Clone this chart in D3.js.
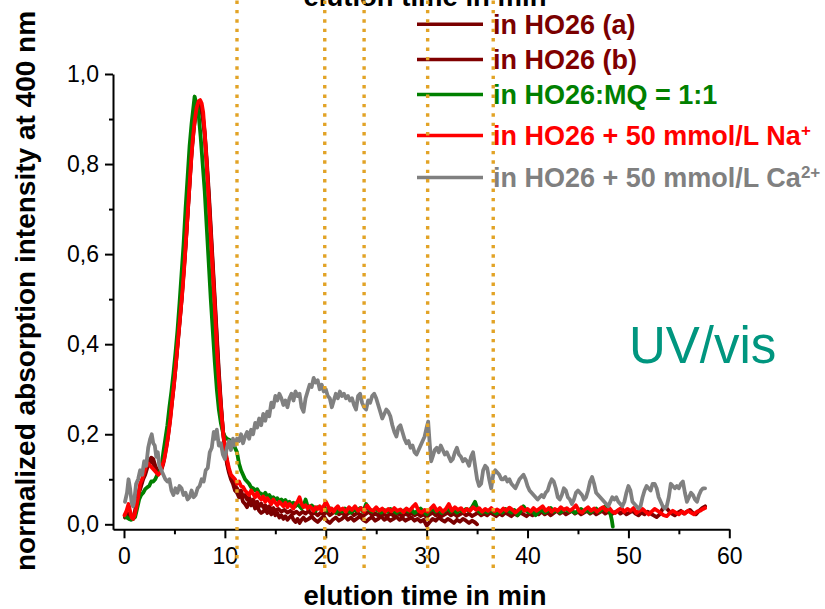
<!DOCTYPE html>
<html><head><meta charset="utf-8">
<script src="https://cdn.jsdelivr.net/npm/d3@7"></script>
<style>html,body{margin:0;padding:0;background:#fff;}svg{display:block;}</style>
</head><body>
<svg id="chart" width="825" height="609"></svg>
<script>
// ---------- data ----------
const xTicks = [0, 10, 20, 30, 40, 50, 60];
const xMinorTicks = [5, 15, 25, 35, 45, 55];
const yTicks = [0.0, 0.2, 0.4, 0.6, 0.8, 1.0];
const yMinorTicks = [0.1, 0.3, 0.5, 0.7, 0.9];
const markerTimes = [11.2, 19.9, 23.8, 30.1, 36.6];
const legendLabels = ["in HO26 (a)", "in HO26 (b)", "in HO26:MQ = 1:1", "in HO26 + 50 mmol/L Na", "in HO26 + 50 mmol/L Ca"];
const legendSup = ["", "", "", "+", "2+"];
const seriesColors = ["#7a0000", "#800000", "#008000", "#ff0000", "#808080"];

const seriesA = [[0.1,0.015],[0.3,0.02],[0.5,0.018],[0.7,0.012],[0.9,0.015],[1.1,0.03],[1.3,0.06],[1.5,0.075],[1.7,0.09],[1.9,0.105],[2.1,0.115],[2.3,0.13],[2.5,0.14],[2.7,0.148],[2.9,0.145],[3.1,0.13],[3.3,0.12],[3.5,0.118],[3.7,0.125],[3.9,0.14],[4.1,0.165],[4.3,0.19],[4.5,0.225],[4.7,0.265],[4.9,0.305],[5.1,0.35],[5.3,0.40],[5.5,0.45],[5.7,0.50],[5.9,0.56],[6.1,0.62],[6.3,0.69],[6.5,0.76],[6.7,0.83],[6.9,0.88],[7.1,0.915],[7.3,0.932],[7.45,0.935],[7.6,0.93],[7.8,0.91],[8.0,0.87],[8.2,0.81],[8.4,0.74],[8.6,0.66],[8.8,0.58],[9.0,0.50],[9.2,0.42],[9.4,0.34],[9.6,0.27],[9.8,0.21],[10.0,0.165],[10.2,0.135],[10.4,0.115],[10.6,0.10],[10.8,0.09],[11.0,0.075],[11.2,0.07],[11.4,0.06],[11.6,0.065],[11.8,0.05],[12.0,0.045],[12.2,0.038],[12.4,0.05],[12.6,0.042],[12.8,0.048],[13.0,0.035],[13.2,0.04],[13.4,0.03],[13.6,0.025],[13.8,0.028],[14.0,0.035],[14.2,0.025],[14.4,0.03],[14.6,0.022],[14.8,0.032],[15.0,0.02],[15.2,0.025],[15.4,0.015],[15.6,0.02],[15.8,0.012],[16.0,0.018],[16.2,0.01],[16.4,0.015],[16.6,0.02],[16.8,0.01],[17.0,0.005],[17.2,0.012],[17.4,0.003],[17.6,0.01],[17.8,0.015],[18.0,0.008],[18.3,0.012],[18.6,0.017],[18.9,0.01],[19.2,0.005],[19.5,0.012],[19.8,0.018],[20.1,0.008],[20.4,0.003],[20.7,0.01],[21.0,0.015],[21.3,0.008],[21.6,0.012],[21.9,0.018],[22.2,0.01],[22.5,0.015],[22.8,0.008],[23.1,0.013],[23.4,0.018],[23.7,0.01],[24.0,0.006],[24.3,0.012],[24.6,0.016],[24.9,0.008],[25.2,0.012],[25.5,0.018],[25.8,0.01],[26.1,0.014],[26.4,0.008],[26.7,0.012],[27.0,0.017],[27.3,0.01],[27.6,0.014],[27.9,0.008],[28.2,0.012],[28.5,0.015],[28.8,0.008],[29.1,0.012],[29.4,0.006],[29.7,0.01],[30.0,-0.003],[30.3,0.005],[30.6,0.012],[30.9,0.008],[31.2,0.015],[31.5,0.01],[31.8,0.006],[32.1,0.012],[32.4,0.008],[32.7,0.003],[33.0,0.01],[33.3,0.006],[33.6,0.012],[33.9,0.008],[34.2,0.003],[34.5,0.008],[34.8,0.004],[35.0,0.0]];

const seriesB = [[0.1,0.02],[0.3,0.025],[0.5,0.02],[0.7,0.012],[0.9,0.012],[1.1,0.025],[1.3,0.05],[1.5,0.07],[1.7,0.085],[1.9,0.1],[2.1,0.11],[2.3,0.125],[2.5,0.135],[2.7,0.14],[2.9,0.135],[3.1,0.125],[3.3,0.118],[3.5,0.115],[3.7,0.12],[3.9,0.135],[4.1,0.16],[4.3,0.185],[4.5,0.22],[4.7,0.26],[4.9,0.30],[5.1,0.345],[5.3,0.395],[5.5,0.445],[5.7,0.495],[5.9,0.555],[6.1,0.615],[6.3,0.685],[6.5,0.755],[6.7,0.825],[6.9,0.875],[7.1,0.91],[7.3,0.928],[7.45,0.93],[7.6,0.925],[7.8,0.905],[8.0,0.865],[8.2,0.80],[8.4,0.73],[8.6,0.65],[8.8,0.57],[9.0,0.49],[9.2,0.41],[9.4,0.33],[9.6,0.265],[9.8,0.21],[10.0,0.17],[10.2,0.14],[10.4,0.12],[10.6,0.105],[10.8,0.095],[11.0,0.085],[11.2,0.08],[11.4,0.07],[11.6,0.075],[11.8,0.06],[12.0,0.065],[12.2,0.055],[12.4,0.06],[12.6,0.05],[12.8,0.055],[13.0,0.045],[13.2,0.05],[13.4,0.04],[13.6,0.046],[13.8,0.038],[14.0,0.042],[14.2,0.035],[14.4,0.04],[14.6,0.032],[14.8,0.036],[15.0,0.03],[15.3,0.034],[15.6,0.028],[15.9,0.032],[16.2,0.026],[16.5,0.03],[16.8,0.024],[17.1,0.028],[17.4,0.022],[17.7,0.028],[18.0,0.024],[18.3,0.03],[18.6,0.022],[18.9,0.026],[19.2,0.02],[19.5,0.026],[19.8,0.022],[20.1,0.028],[20.4,0.02],[20.7,0.025],[21.0,0.03],[21.3,0.022],[21.6,0.026],[21.9,0.02],[22.2,0.024],[22.5,0.028],[22.8,0.02],[23.1,0.025],[23.4,0.022],[23.7,0.018],[24.0,0.024],[24.3,0.028],[24.6,0.02],[24.9,0.024],[25.2,0.02],[25.5,0.026],[25.8,0.022],[26.1,0.018],[26.4,0.024],[26.7,0.02],[27.0,0.026],[27.3,0.022],[27.6,0.018],[27.9,0.024],[28.2,0.02],[28.5,0.025],[28.8,0.02],[29.1,0.024],[29.4,0.018],[29.7,0.022],[30.0,0.016],[30.3,0.022],[30.6,0.026],[30.9,0.02],[31.2,0.024],[31.5,0.018],[31.8,0.022],[32.1,0.026],[32.4,0.02],[32.7,0.024],[33.0,0.018],[33.3,0.022],[33.6,0.026],[33.9,0.02],[34.2,0.024],[34.5,0.018],[34.8,0.022],[35.1,0.026],[35.4,0.02],[35.7,0.024],[36.0,0.02],[36.3,0.026],[36.6,0.022],[36.9,0.018],[37.2,0.024],[37.5,0.02],[37.8,0.026],[38.1,0.022],[38.4,0.018],[38.7,0.024],[39.0,0.02],[39.3,0.026],[39.6,0.022],[39.9,0.018],[40.2,0.024],[40.5,0.02],[40.8,0.026],[41.1,0.022],[41.4,0.028],[41.7,0.022],[42.0,0.026],[42.3,0.02],[42.6,0.025],[42.9,0.03],[43.2,0.024],[43.5,0.028],[43.8,0.022],[44.1,0.026],[44.4,0.03],[44.7,0.024],[45.0,0.028],[45.3,0.022],[45.6,0.026],[45.9,0.03],[46.2,0.024],[46.5,0.028],[46.8,0.022],[47.1,0.026],[47.4,0.03],[47.7,0.024],[48.0,0.028],[48.3,0.022],[48.6,0.026],[48.9,0.03],[49.2,0.024],[49.5,0.028],[49.8,0.022],[50.1,0.026],[50.4,0.03],[50.7,0.024],[51.0,0.02],[51.3,0.026],[51.6,0.022],[51.9,0.028],[52.2,0.024],[52.5,0.02],[52.8,0.016],[53.1,0.022],[53.4,0.035],[53.7,0.038],[54.0,0.03],[54.3,0.024],[54.6,0.02],[54.9,0.026],[55.2,0.03],[55.5,0.024],[55.8,0.028],[56.1,0.032],[56.4,0.025],[56.7,0.022],[57.0,0.03],[57.3,0.036],[57.6,0.04]];

const seriesMQ = [[0.1,0.018],[0.3,0.015],[0.5,0.012],[0.7,0.01],[0.9,0.012],[1.1,0.016],[1.3,0.035],[1.5,0.055],[1.7,0.065],[1.9,0.07],[2.1,0.078],[2.3,0.082],[2.5,0.085],[2.7,0.095],[2.9,0.095],[3.1,0.1],[3.3,0.11],[3.5,0.115],[3.7,0.125],[3.9,0.16],[4.1,0.19],[4.3,0.22],[4.5,0.26],[4.7,0.295],[4.9,0.335],[5.1,0.38],[5.3,0.43],[5.5,0.49],[5.7,0.555],[5.9,0.62],[6.1,0.70],[6.3,0.77],[6.5,0.84],[6.7,0.89],[6.9,0.93],[7.0,0.95],[7.1,0.94],[7.25,0.93],[7.4,0.91],[7.6,0.86],[7.8,0.80],[8.0,0.74],[8.2,0.66],[8.4,0.58],[8.6,0.50],[8.8,0.43],[9.0,0.36],[9.2,0.30],[9.4,0.255],[9.6,0.225],[9.8,0.205],[10.0,0.195],[10.2,0.19],[10.4,0.188],[10.6,0.185],[10.8,0.18],[11.0,0.17],[11.2,0.16],[11.4,0.135],[11.6,0.12],[11.8,0.11],[12.0,0.10],[12.2,0.095],[12.4,0.09],[12.6,0.082],[12.8,0.08],[13.0,0.075],[13.2,0.078],[13.4,0.07],[13.6,0.068],[13.8,0.064],[14.0,0.07],[14.2,0.062],[14.4,0.065],[14.6,0.058],[14.8,0.06],[15.0,0.055],[15.2,0.058],[15.4,0.05],[15.6,0.055],[15.8,0.05],[16.0,0.054],[16.2,0.046],[16.4,0.05],[16.6,0.044],[16.8,0.048],[17.0,0.04],[17.2,0.045],[17.4,0.04],[17.6,0.035],[17.8,0.042],[18.0,0.055],[18.2,0.04],[18.4,0.036],[18.6,0.042],[18.8,0.038],[19.0,0.03],[19.2,0.038],[19.5,0.034],[19.8,0.04],[20.1,0.03],[20.4,0.036],[20.7,0.032],[21.0,0.025],[21.3,0.032],[21.6,0.028],[21.9,0.035],[22.2,0.03],[22.5,0.026],[22.8,0.033],[23.1,0.03],[23.4,0.036],[23.7,0.028],[24.0,0.045],[24.3,0.032],[24.6,0.028],[24.9,0.034],[25.2,0.03],[25.5,0.026],[25.8,0.032],[26.1,0.028],[26.4,0.034],[26.7,0.03],[27.0,0.025],[27.3,0.03],[27.6,0.027],[27.9,0.033],[28.2,0.028],[28.5,0.032],[28.8,0.025],[29.1,0.03],[29.4,0.035],[29.7,0.028],[30.0,0.022],[30.3,0.03],[30.6,0.035],[30.9,0.028],[31.2,0.032],[31.5,0.025],[31.8,0.03],[32.1,0.036],[32.4,0.028],[32.7,0.033],[33.0,0.026],[33.3,0.032],[33.6,0.028],[33.9,0.034],[34.2,0.03],[34.5,0.038],[34.8,0.05],[35.1,0.03],[35.4,0.025],[35.7,0.03],[36.0,0.026],[36.3,0.032],[36.6,0.028],[36.9,0.024],[37.2,0.03],[37.5,0.026],[37.8,0.034],[38.1,0.03],[38.4,0.026],[38.7,0.032],[39.0,0.02],[39.3,0.028],[39.6,0.04],[39.9,0.03],[40.2,0.026],[40.5,0.03],[40.8,0.02],[41.1,0.028],[41.4,0.032],[41.7,0.026],[42.0,0.03],[42.3,0.036],[42.6,0.028],[42.9,0.032],[43.2,0.026],[43.5,0.03],[43.8,0.034],[44.1,0.028],[44.4,0.03],[44.7,0.025],[45.0,0.03],[45.3,0.034],[45.6,0.028],[45.9,0.032],[46.2,0.026],[46.5,0.03],[46.8,0.035],[47.1,0.028],[47.4,0.033],[47.7,0.04],[48.0,0.03],[48.2,0.025],[48.35,0.01],[48.45,-0.005]];

const seriesNa = [[0.05,0.02],[0.25,0.03],[0.45,0.045],[0.6,0.03],[0.75,0.015],[0.9,0.012],[1.05,0.02],[1.2,0.035],[1.4,0.06],[1.6,0.09],[1.8,0.10],[2.0,0.115],[2.2,0.13],[2.4,0.135],[2.6,0.13],[2.8,0.125],[3.0,0.12],[3.2,0.115],[3.4,0.11],[3.6,0.115],[3.8,0.13],[4.0,0.145],[4.2,0.17],[4.4,0.20],[4.6,0.235],[4.8,0.28],[5.0,0.32],[5.2,0.37],[5.4,0.42],[5.6,0.47],[5.8,0.52],[6.0,0.58],[6.2,0.65],[6.4,0.72],[6.6,0.79],[6.8,0.85],[7.0,0.895],[7.2,0.925],[7.4,0.94],[7.55,0.942],[7.7,0.935],[7.85,0.915],[8.0,0.87],[8.2,0.80],[8.4,0.72],[8.6,0.64],[8.8,0.56],[9.0,0.48],[9.2,0.39],[9.4,0.32],[9.6,0.26],[9.8,0.21],[10.0,0.17],[10.2,0.145],[10.4,0.125],[10.6,0.11],[10.8,0.105],[11.0,0.10],[11.2,0.09],[11.4,0.095],[11.6,0.085],[11.8,0.083],[12.0,0.075],[12.2,0.07],[12.4,0.065],[12.6,0.075],[12.8,0.068],[13.0,0.06],[13.2,0.07],[13.4,0.06],[13.6,0.055],[13.8,0.062],[14.0,0.05],[14.2,0.058],[14.4,0.052],[14.6,0.045],[14.8,0.055],[15.0,0.048],[15.2,0.042],[15.4,0.05],[15.6,0.045],[15.8,0.04],[16.0,0.048],[16.2,0.038],[16.4,0.045],[16.6,0.04],[16.8,0.035],[17.0,0.045],[17.2,0.05],[17.4,0.06],[17.6,0.045],[17.8,0.038],[18.0,0.042],[18.2,0.035],[18.4,0.04],[18.6,0.036],[18.8,0.03],[19.0,0.038],[19.2,0.034],[19.4,0.04],[19.6,0.03],[19.8,0.04],[20.0,0.05],[20.2,0.042],[20.4,0.03],[20.6,0.035],[20.8,0.028],[21.0,0.036],[21.2,0.04],[21.4,0.032],[21.7,0.035],[22.0,0.028],[22.3,0.038],[22.6,0.032],[22.9,0.04],[23.2,0.03],[23.5,0.036],[23.8,0.028],[24.1,0.042],[24.4,0.033],[24.7,0.03],[25.0,0.038],[25.3,0.03],[25.6,0.035],[25.9,0.028],[26.2,0.034],[26.5,0.029],[26.8,0.036],[27.1,0.03],[27.4,0.033],[27.7,0.027],[28.0,0.035],[28.3,0.03],[28.6,0.038],[28.9,0.045],[29.2,0.03],[29.5,0.026],[29.8,0.032],[30.1,0.028],[30.4,0.035],[30.7,0.042],[31.0,0.03],[31.3,0.036],[31.6,0.028],[31.9,0.034],[32.2,0.045],[32.5,0.03],[32.8,0.038],[33.1,0.032],[33.4,0.036],[33.7,0.028],[34.0,0.034],[34.3,0.03],[34.6,0.038],[34.9,0.032],[35.2,0.036],[35.5,0.028],[35.8,0.034],[36.1,0.03],[36.4,0.036],[36.7,0.029],[37.0,0.033],[37.3,0.028],[37.6,0.035],[37.9,0.03],[38.2,0.037],[38.5,0.032],[38.8,0.026],[39.1,0.032],[39.4,0.038],[39.7,0.03],[40.0,0.034],[40.3,0.028],[40.6,0.036],[40.9,0.03],[41.2,0.035],[41.5,0.04],[41.8,0.03],[42.1,0.036],[42.4,0.028],[42.7,0.034],[43.0,0.03],[43.3,0.038],[43.6,0.032],[43.9,0.036],[44.2,0.03],[44.5,0.035],[44.8,0.042],[45.1,0.03],[45.4,0.026],[45.7,0.033],[46.0,0.038],[46.3,0.03],[46.6,0.035],[46.9,0.028],[47.2,0.034],[47.5,0.038],[47.8,0.03],[48.1,0.036],[48.4,0.028],[48.7,0.025],[49.0,0.032],[49.3,0.036],[49.6,0.028],[49.9,0.034],[50.2,0.03],[50.5,0.036],[50.8,0.025],[51.1,0.03],[51.4,0.034],[51.7,0.028],[52.0,0.022],[52.3,0.028],[52.6,0.034],[52.9,0.03],[53.2,0.025],[53.5,0.02],[53.8,0.018],[54.1,0.025],[54.4,0.03],[54.7,0.026],[55.0,0.022],[55.3,0.028],[55.6,0.024],[55.9,0.03],[56.2,0.026],[56.5,0.022],[56.8,0.028],[57.1,0.03],[57.4,0.034],[57.6,0.036]];

const seriesCa = [[0.1,0.05],[0.3,0.07],[0.45,0.10],[0.6,0.08],[0.75,0.05],[0.9,0.04],[1.0,0.05],[1.2,0.09],[1.4,0.10],[1.6,0.12],[1.8,0.11],[2.0,0.14],[2.2,0.13],[2.4,0.17],[2.6,0.19],[2.75,0.20],[2.9,0.18],[3.05,0.175],[3.2,0.15],[3.35,0.16],[3.5,0.13],[3.7,0.12],[3.9,0.11],[4.1,0.10],[4.3,0.095],[4.5,0.10],[4.7,0.075],[4.9,0.065],[5.1,0.08],[5.3,0.07],[5.5,0.085],[5.7,0.08],[5.9,0.065],[6.1,0.07],[6.3,0.055],[6.5,0.06],[6.7,0.075],[6.9,0.06],[7.1,0.065],[7.3,0.08],[7.5,0.085],[7.7,0.10],[7.9,0.095],[8.1,0.12],[8.3,0.125],[8.5,0.16],[8.7,0.17],[8.9,0.205],[9.05,0.19],[9.2,0.21],[9.4,0.175],[9.6,0.18],[9.8,0.155],[10.0,0.145],[10.2,0.17],[10.4,0.185],[10.6,0.165],[10.8,0.19],[11.0,0.175],[11.2,0.19],[11.4,0.185],[11.6,0.20],[11.8,0.18],[12.0,0.195],[12.2,0.205],[12.4,0.19],[12.6,0.21],[12.8,0.20],[13.0,0.225],[13.2,0.215],[13.4,0.235],[13.6,0.22],[13.8,0.245],[14.0,0.23],[14.2,0.25],[14.4,0.24],[14.6,0.27],[14.8,0.26],[15.0,0.285],[15.2,0.275],[15.4,0.29],[15.6,0.28],[15.8,0.265],[16.0,0.275],[16.2,0.26],[16.4,0.28],[16.6,0.29],[16.8,0.275],[17.0,0.295],[17.2,0.285],[17.4,0.29],[17.6,0.26],[17.8,0.25],[18.0,0.28],[18.2,0.295],[18.4,0.31],[18.6,0.305],[18.8,0.325],[19.0,0.315],[19.2,0.32],[19.4,0.30],[19.6,0.31],[19.8,0.295],[20.0,0.30],[20.2,0.285],[20.4,0.28],[20.6,0.26],[20.8,0.275],[21.0,0.29],[21.2,0.28],[21.4,0.295],[21.6,0.285],[21.8,0.29],[22.0,0.28],[22.2,0.285],[22.4,0.275],[22.6,0.28],[22.8,0.265],[23.0,0.255],[23.2,0.285],[23.4,0.29],[23.6,0.27],[23.8,0.26],[24.0,0.255],[24.2,0.275],[24.4,0.27],[24.6,0.285],[24.8,0.29],[25.0,0.28],[25.2,0.265],[25.4,0.25],[25.6,0.235],[25.8,0.245],[26.0,0.255],[26.2,0.25],[26.4,0.24],[26.6,0.22],[26.8,0.205],[27.0,0.195],[27.2,0.215],[27.4,0.22],[27.6,0.205],[27.8,0.19],[28.0,0.18],[28.2,0.185],[28.4,0.17],[28.6,0.175],[28.8,0.16],[29.0,0.155],[29.2,0.165],[29.4,0.175],[29.6,0.185],[29.8,0.195],[30.0,0.215],[30.15,0.228],[30.3,0.18],[30.45,0.14],[30.6,0.15],[30.8,0.165],[31.0,0.17],[31.2,0.16],[31.4,0.175],[31.6,0.165],[31.8,0.155],[32.0,0.16],[32.2,0.15],[32.4,0.14],[32.6,0.145],[32.8,0.16],[33.0,0.17],[33.2,0.155],[33.4,0.15],[33.6,0.14],[33.8,0.145],[34.0,0.14],[34.2,0.13],[34.4,0.15],[34.6,0.16],[34.8,0.13],[35.0,0.10],[35.2,0.085],[35.4,0.09],[35.6,0.12],[35.8,0.13],[36.0,0.125],[36.2,0.10],[36.4,0.08],[36.6,0.11],[36.8,0.12],[37.0,0.115],[37.2,0.11],[37.4,0.10],[37.6,0.10],[37.8,0.105],[38.0,0.095],[38.2,0.10],[38.4,0.09],[38.6,0.085],[38.8,0.08],[39.0,0.09],[39.2,0.10],[39.4,0.105],[39.6,0.11],[39.8,0.10],[40.0,0.085],[40.2,0.075],[40.4,0.07],[40.6,0.065],[40.8,0.06],[41.0,0.055],[41.2,0.06],[41.4,0.065],[41.6,0.06],[41.8,0.07],[42.0,0.075],[42.2,0.09],[42.4,0.10],[42.6,0.095],[42.8,0.08],[43.0,0.06],[43.2,0.055],[43.4,0.065],[43.6,0.08],[43.8,0.075],[44.0,0.06],[44.2,0.055],[44.4,0.045],[44.6,0.055],[44.8,0.07],[45.0,0.075],[45.2,0.07],[45.4,0.065],[45.6,0.055],[45.8,0.06],[46.0,0.075],[46.2,0.095],[46.4,0.105],[46.6,0.09],[46.8,0.07],[47.0,0.065],[47.2,0.06],[47.4,0.055],[47.6,0.05],[47.8,0.045],[48.0,0.04],[48.2,0.05],[48.4,0.06],[48.6,0.055],[48.8,0.06],[49.0,0.05],[49.2,0.045],[49.4,0.04],[49.6,0.05],[49.8,0.07],[50.0,0.085],[50.2,0.075],[50.4,0.05],[50.6,0.045],[50.8,0.04],[51.0,0.035],[51.2,0.04],[51.4,0.06],[51.6,0.075],[51.8,0.085],[52.0,0.08],[52.2,0.075],[52.4,0.09],[52.6,0.09],[52.8,0.08],[53.0,0.06],[53.2,0.05],[53.4,0.04],[53.6,0.035],[53.8,0.04],[54.0,0.06],[54.2,0.09],[54.4,0.085],[54.6,0.08],[54.8,0.085],[55.0,0.08],[55.2,0.09],[55.4,0.095],[55.6,0.07],[55.8,0.05],[56.0,0.06],[56.2,0.07],[56.4,0.065],[56.6,0.055],[56.8,0.05],[57.0,0.065],[57.2,0.075],[57.4,0.08],[57.6,0.08]];

const allSeries = [seriesA, seriesB, seriesMQ, seriesNa, seriesCa];

// ---------- drawing ----------
const svg = d3.select("#chart");
const x = d3.scaleLinear().domain([-1.09, 60]).range([113, 729.3]);
const y = d3.scaleLinear().domain([-0.0111, 1.0]).range([529.3, 74]);
const fmt = d => d.toFixed(1).replace(".", ",");
const FONT = "'Liberation Sans', Arial, Helvetica, sans-serif";

// curves
const line = d3.line().x(d => x(d[0])).y(d => y(d[1]));
svg.append("g").selectAll("path").data(allSeries).join("path")
  .attr("d", line).attr("fill", "none")
  .attr("stroke", (d, i) => seriesColors[i])
  .attr("stroke-width", 3.8).attr("stroke-linejoin", "round").attr("stroke-linecap", "round");

// axes
function styleAxis(g) {
  g.selectAll("path.domain").attr("stroke", "#000").attr("stroke-width", 2);
  g.selectAll(".tick line").attr("stroke", "#000").attr("stroke-width", 2);
  g.selectAll("text").attr("font-family", FONT).attr("font-size", 23).attr("fill", "#000");
}
const gx = svg.append("g").attr("transform", `translate(0,${y.range()[0]})`)
  .call(d3.axisBottom(x).tickValues(xTicks).tickSize(9).tickSizeOuter(0).tickPadding(9).tickFormat(d3.format("d")));
styleAxis(gx);
const gxm = svg.append("g").attr("transform", `translate(0,${y.range()[0]})`)
  .call(d3.axisBottom(x).tickValues(xMinorTicks).tickSize(5).tickSizeOuter(0).tickFormat(""));
styleAxis(gxm); gxm.select("path.domain").remove();

const gy = svg.append("g").attr("transform", `translate(${x.range()[0]},0)`)
  .call(d3.axisLeft(y).tickValues(yTicks).tickSize(8).tickSizeOuter(0).tickPadding(6).tickFormat(fmt));
styleAxis(gy);
const gym = svg.append("g").attr("transform", `translate(${x.range()[0]},0)`)
  .call(d3.axisLeft(y).tickValues(yMinorTicks).tickSize(4).tickSizeOuter(0).tickFormat(""));
styleAxis(gym); gym.select("path.domain").remove();

// titles (the top one is cut off by the page edge, as in the reference)
svg.append("text").attr("x", 425).attr("y", 605).attr("text-anchor", "middle")
  .attr("font-family", FONT).attr("font-weight", "bold").attr("font-size", 27.5).text("elution time in min");
svg.append("text").attr("x", 425).attr("y", 6).attr("text-anchor", "middle")
  .attr("font-family", FONT).attr("font-weight", "bold").attr("font-size", 27.5).text("elution time in min");
svg.append("text").attr("transform", "translate(35,291) rotate(-90)").attr("text-anchor", "middle")
  .attr("font-family", FONT).attr("font-weight", "bold").attr("font-size", 28)
  .text("normalized absorption intensity at 400 nm");

// UV/vis label
svg.append("text").attr("x", 629).attr("y", 363).attr("font-family", FONT).attr("font-size", 51)
  .attr("fill", "#00967f").text("UV/vis");

// legend
const legendY = [24.3, 59.5, 94.5, 135.5, 177.5];
const lg = svg.append("g");
legendLabels.forEach((lab, i) => {
  lg.append("line").attr("x1", 417).attr("x2", 483).attr("y1", legendY[i]).attr("y2", legendY[i])
    .attr("stroke", seriesColors[i]).attr("stroke-width", 3.6);
  const t = lg.append("text").attr("x", 493).attr("y", legendY[i] + 9.8)
    .attr("font-family", FONT).attr("font-weight", "bold").attr("font-size", 27)
    .attr("fill", seriesColors[i]);
  t.append("tspan").text(lab);
  if (legendSup[i]) t.append("tspan").attr("dy", -9.5).attr("font-size", 17).text(legendSup[i]);
});

// dotted markers (on top)
svg.append("g").selectAll("line").data(markerTimes).join("line")
  .attr("x1", d => x(d)).attr("x2", d => x(d)).attr("y1", 0.5).attr("y2", 572)
  .attr("stroke", "#e2a326").attr("stroke-width", 3.4).attr("stroke-dasharray", "3.4 6");
</script>
</body></html>
